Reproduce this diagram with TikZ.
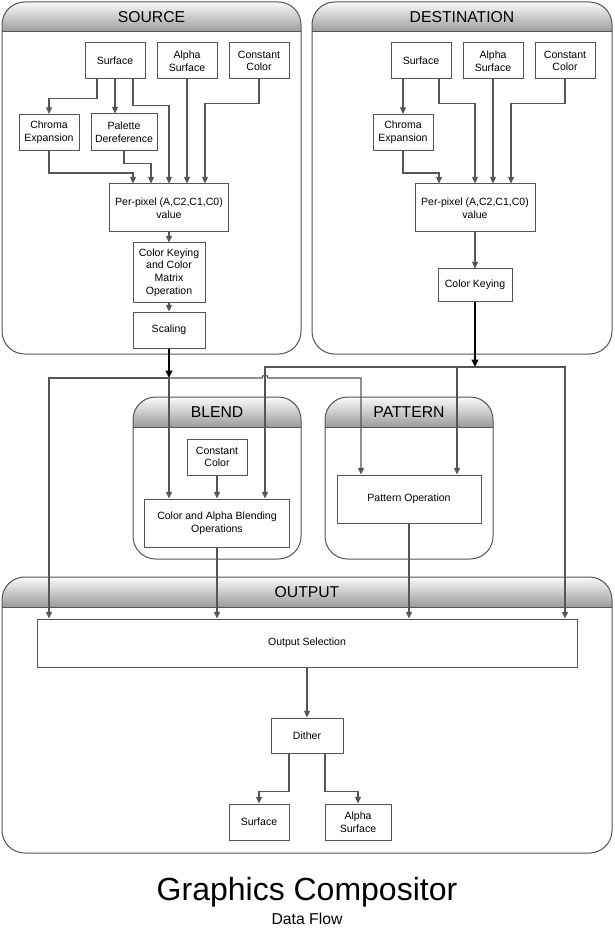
\documentclass[tikz,border=0pt]{standalone}
\usepackage{fontspec}
\setmainfont{Liberation Sans}
\usepackage{tikz}
\usepackage{xcolor}
\usetikzlibrary{arrows.meta,calc}
\tikzset{every picture/.style={line width=0.75pt}}
\definecolor{lnGray}{RGB}{85,85,85}
\definecolor{hdTop}{RGB}{155,155,155}
\definecolor{hdBot}{RGB}{250,250,250}
\tikzset{
  blk/.style={draw=lnGray, fill=white, align=center, inner sep=1pt, font=\fontsize{7.9}{9.5}\selectfont},
  sq/.style={blk, minimum width=45pt, minimum height=27pt},
  flow/.style={draw=lnGray, line width=0.9pt, -{Triangle[length=5pt,width=4.5pt]}},
  feed/.style={draw=black, line width=1.5pt, -{Triangle[length=5.5pt,width=5pt]}},
  panel/.style={draw=lnGray, rounded corners=17pt},
  hdr/.style={top color=hdBot, bottom color=hdTop, draw=none},
  hdrtext/.style={font=\fontsize{11.8}{14}\selectfont},
}

\begin{document}
\begin{tikzpicture}[x=0.75pt,y=0.75pt,yscale=-1,xscale=1]
\useasboundingbox (0,0) rectangle (614,930);
\fill[white] (0,0) rectangle (614,930);

%Shape: Rounded Rect [source panel]
\path[hdr] (2,32) [rounded corners=17pt]-- (2,2) -- (301,2) [sharp corners]-- (301,32) -- cycle;
\draw[panel] (2,2) rectangle (301,354);
\draw[lnGray] (2,32) -- (301,32);
%Shape: Rounded Rect [destination panel]
\path[hdr] (312,32) [rounded corners=17pt]-- (312,2) -- (612,2) [sharp corners]-- (612,32) -- cycle;
\draw[panel] (312,2) rectangle (612,354);
\draw[lnGray] (312,32) -- (612,32);
%Shape: Rounded Rect [blend panel]
\path[hdr] (133,427) [rounded corners=17pt]-- (133,397) -- (301,397) [sharp corners]-- (301,427) -- cycle;
\draw[panel] (133,397) rectangle (301,559);
\draw[lnGray] (133,427) -- (301,427);
%Shape: Rounded Rect [pattern panel]
\path[hdr] (325,427) [rounded corners=17pt]-- (325,397) -- (493,397) [sharp corners]-- (493,427) -- cycle;
\draw[panel] (325,397) rectangle (493,559);
\draw[lnGray] (325,427) -- (493,427);
%Shape: Rounded Rect [output panel]
\path[hdr] (2,607) [rounded corners=17pt]-- (2,577) -- (612,577) [sharp corners]-- (612,607) -- cycle;
\draw[panel] (2,577) rectangle (612,853);
\draw[lnGray] (2,607) -- (612,607);

% Text Node
\node[hdrtext] (srcHd) at (151.5,17) {SOURCE};
% Text Node
\node[hdrtext] (dstHd) at (462,17) {DESTINATION};
% Text Node
\node[hdrtext] (blnHd) at (217,412) {BLEND};
% Text Node
\node[hdrtext] (patHd) at (409,412) {PATTERN};
% Text Node
\node[hdrtext] (outHd) at (307,592) {OUTPUT};

%Shape: Rectangle [source]
\node[sq] (srcSurf) at (115,61) {Surface};
\node[sq] (srcAlpha) at (187,61) {Alpha\\Surface};
\node[sq] (srcConst) at (259,61) {Constant\\Color};
\node[sq] (srcChroma) at (49,132.5) {Chroma\\Expansion};
\node[blk, minimum width=49.5pt, minimum height=27.75pt] (srcPal) at (124,132.5) {Palette\\Dereference};
\node[blk, minimum width=89.25pt, minimum height=36pt] (srcPix) at (169,208) {Per-pixel (A,C2,C1,C0)\\value};
\node[blk, minimum width=54pt, minimum height=44.25pt] (srcKey) at (169,272.5) {Color Keying\\and Color\\Matrix\\Operation};
\node[blk, minimum width=54pt, minimum height=27pt] (srcScale) at (169,330) {Scaling};

%Shape: Rectangle [destination]
\node[sq] (dstSurf) at (421,61) {Surface};
\node[sq] (dstAlpha) at (493,61) {Alpha\\Surface};
\node[sq] (dstConst) at (565,61) {Constant\\Color};
\node[sq] (dstChroma) at (403,132.5) {Chroma\\Expansion};
\node[blk, minimum width=90pt, minimum height=36pt] (dstPix) at (475,208) {Per-pixel (A,C2,C1,C0)\\value};
\node[blk, minimum width=55.5pt, minimum height=24pt] (dstKey) at (475,285) {Color Keying};

%Shape: Rectangle [blend, pattern]
\node[sq] (blnConst) at (217,457) {Constant\\Color};
\node[blk, minimum width=108.75pt, minimum height=36pt] (blnOp) at (217,523) {Color and Alpha Blending\\Operations};
\node[blk, minimum width=108pt, minimum height=36pt] (patOp) at (409,499) {Pattern Operation};

%Shape: Rectangle [output]
\node[blk, minimum width=405pt, minimum height=36pt] (outSel) at (307,643) {Output Selection};
\node[blk, minimum width=54pt, minimum height=26.25pt] (outDith) at (307,735.5) {Dither};
\node[sq] (outSurf) at (259,822) {Surface};
\node[blk, minimum width=49.5pt, minimum height=27pt] (outAlpha) at (358,822) {Alpha\\Surface};

%Straight Lines [source]
\draw[flow] ($(srcSurf.south)+(-18,0)$) -- ++(0,19) -| (srcChroma.north);
\draw[flow] (srcSurf.south) -- (srcSurf.south |- srcPal.north);
\draw[flow] ($(srcSurf.south)+(18,0)$) -- ++(0,26) -| (srcPix.north);
\draw[flow] (srcChroma.south) -- ++(0,22) -| ($(srcPix.north)+(-36,0)$);
\draw[flow] (srcPal.south) -- ++(0,12) -| ($(srcPix.north)+(-18,0)$);
\draw[flow] (srcAlpha.south) -- (srcAlpha.south |- srcPix.north);
\draw[flow] (srcConst.south) -- ++(0,24) -| ($(srcPix.north)+(36,0)$);
\draw[flow] (srcPix.south) -- (srcKey.north);
\draw[flow] (srcKey.south) -- (srcScale.north);

%Straight Lines [destination]
\draw[flow] (dstChroma.north |- dstSurf.south) -- (dstChroma.north);
\draw[flow] ($(dstSurf.south)+(18,0)$) -- ++(0,24) -| (dstPix.north);
\draw[flow] (dstChroma.south) -- ++(0,22) -| ($(dstPix.north)+(-36,0)$);
\draw[flow] (dstAlpha.south) -- (dstAlpha.south |- dstPix.north);
\draw[flow] (dstConst.south) -- ++(0,24) -| ($(dstPix.north)+(36,0)$);
\draw[flow] (dstPix.south) -- (dstKey.north);

%Straight Lines [feeds]
\coordinate (srcTap) at (169,378);
\coordinate (dstTap) at (475,367);
\path (blnOp.north) ++(48,0) coordinate (dstDrop);
\coordinate (hop) at (dstDrop |- srcTap);
\draw[feed] (srcScale.south) -- (srcTap);
\draw[feed] (dstKey.south) -- (dstTap);

%Straight Lines [source bus]
\draw[flow] (srcTap) -| ($(outSel.north)+(-258,0)$);
\draw[flow] (srcTap) -- ($(blnOp.north)+(-48,0)$);
\draw[flow] (srcTap) -- ([xshift=-2.25pt]hop) arc[start angle=180,end angle=360,radius=2.25pt] -| ($(patOp.north)+(-48,0)$);
%Straight Lines [destination bus]
\draw[flow] (dstTap) -| (dstDrop);
\draw[flow] (dstTap) -| ($(patOp.north)+(48,0)$);
\draw[flow] (dstTap) -| ($(outSel.north)+(258,0)$);

%Straight Lines [blend, pattern, output]
\draw[flow] (blnConst.south) -- (blnOp.north);
\draw[flow] (blnOp.south) -- (blnOp.south |- outSel.north);
\draw[flow] (patOp.south) -- (patOp.south |- outSel.north);
\draw[flow] (outSel.south) -- (outDith.north);
\draw[flow] ($(outDith.south)+(-18,0)$) -- ++(0,38) -| (outSurf.north);
\draw[flow] ($(outDith.south)+(18,0)$) -- ++(0,38) -| (outAlpha.north);

% Text Node
\node[font=\fontsize{24}{28}\selectfont, anchor=base] (ttl) at (307,900) {Graphics Compositor};
% Text Node
\node[font=\fontsize{11.8}{14}\selectfont, anchor=base] (ttlSub) at (307,924) {Data Flow};

\end{tikzpicture}
\end{document}
